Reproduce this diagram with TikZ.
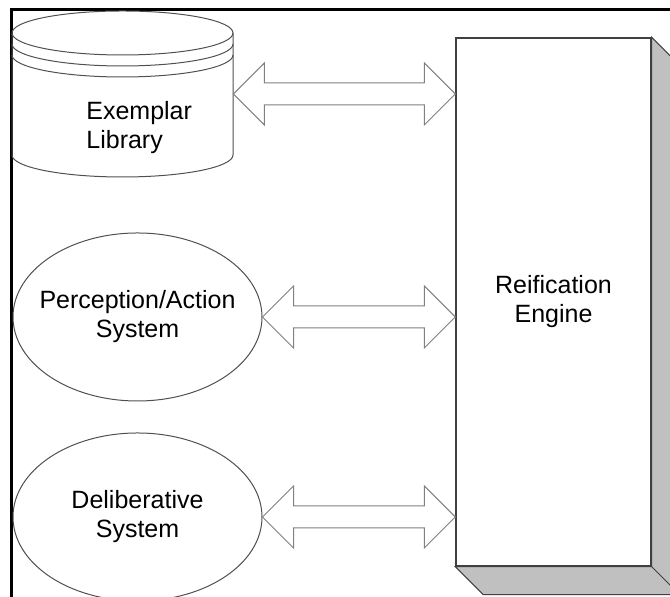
\documentclass[tikz,border=0pt]{standalone}
\usepackage{fontspec}
\setmainfont{Liberation Sans}
\usetikzlibrary{shapes.geometric,calc}

\definecolor{shadowgray}{HTML}{C0C0C0}
\definecolor{edgegray}{HTML}{505050}
\definecolor{boxgray}{HTML}{404040}
\definecolor{arrowgray}{HTML}{808080}

\tikzset{
	blockarrow/.style = {draw = arrowgray, fill = white, line width = 0.5pt},
	sysellipse/.style = {draw = edgegray, ellipse, inner sep = 0pt, line width = 0.5pt,
		minimum width = 124.5pt, minimum height = 84pt},
	enginebox/.style = {draw = boxgray, fill = white, line width = 0.7pt, inner sep = 0pt,
		minimum width = 97.5pt, minimum height = 264pt, align = center,
		font = \fontsize{12.5}{14.5}\selectfont},
	lbl/.style = {align = center, inner sep = 0pt, font = \fontsize{12.5}{14.5}\selectfont},
}

%	double block arrow between two points on one height
\newcommand{\dblarrow}[2]{%
	\draw[blockarrow] let \p1 = #1, \p2 = #2 in
		(\x1, \y1) -- (\x1 + 15.5pt, \y1 + 15.5pt) -- (\x1 + 15.5pt, \y1 + 5.5pt)
		-- (\x2 - 15.5pt, \y1 + 5.5pt) -- (\x2 - 15.5pt, \y1 + 15.5pt) -- (\x2, \y1)
		-- (\x2 - 15.5pt, \y1 - 15.5pt) -- (\x2 - 15.5pt, \y1 - 5.5pt)
		-- (\x1 + 15.5pt, \y1 - 5.5pt) -- (\x1 + 15.5pt, \y1 - 15.5pt) -- cycle;
}

\begin{document}
\begin{tikzpicture}[x = 0.5pt, y = 0.5pt]
	\clip (0, 0) rectangle (670, 597);
	
	%	frame
	\draw[line width = 1.5pt] (11, -10) -- (11, 587) -- (690, 587);
	
	%	exemplar library (cylinder)
	\def\cx{122.5}
	\draw[edgegray, line width = 0.5pt] (\cx, 564) ellipse [x radius = 55.25pt, y radius = 11pt];
	\draw[edgegray, line width = 0.5pt] (12, 553) arc [start angle = 180, end angle = 360, x radius = 55.25pt, y radius = 11pt];
	\draw[edgegray, line width = 0.5pt] (12, 542) arc [start angle = 180, end angle = 360, x radius = 55.25pt, y radius = 11pt];
	\draw[edgegray, line width = 0.5pt] (12, 564) -- (12, 442)
		arc [start angle = 180, end angle = 360, x radius = 55.25pt, y radius = 11pt] -- (233, 564);
	\node[inner sep = 0pt, minimum width = 110.5pt, minimum height = 61pt] (lib) at (\cx, 503) {};
	\node[lbl, align = left, anchor = west] (libtext) at (86, 469) {Exemplar\\Library};
	
	%	systems
	\node[sysellipse] (perc) at (137.5, 280) {};
	\node[lbl] (perctext) at (perc) {Perception/Action\\System};
	\node[sysellipse] (delib) at (137.5, 80) {};
	\node[lbl] (delibtext) at (delib) {Deliberative\\System};
	
	%	reification engine with shadow
	\node[enginebox] (engine) at (553.5, 295) {Reification\\Engine};
	\filldraw[fill = shadowgray, draw = boxgray, line width = 0.5pt]
		(engine.north east) -- ($(engine.north east) + (28, -28)$)
		-- ($(engine.south east) + (28, -28)$) -- ($(engine.south west) + (28, -28)$)
		-- (engine.south west) -- (engine.south east) -- cycle;
	\draw[boxgray, line width = 0.5pt] (engine.south east) -- ++(28, -28);
	\draw[boxgray, line width = 0.7pt] (engine.south west) -- (engine.south east) -- (engine.north east);
	
	%	connectors
	\dblarrow{(lib.east)}{(lib.east -| engine.west)}
	\dblarrow{(perc.east)}{(perc.east -| engine.west)}
	\dblarrow{(delib.east)}{(delib.east -| engine.west)}
\end{tikzpicture}
\end{document}
